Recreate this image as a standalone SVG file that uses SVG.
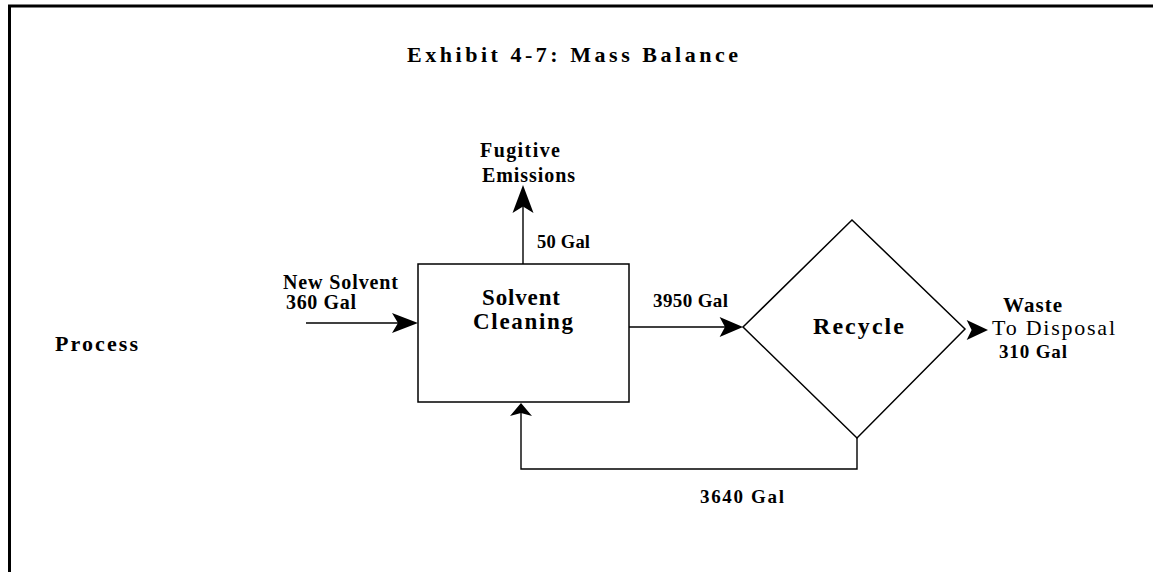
<svg xmlns="http://www.w3.org/2000/svg" xmlns:xlink="http://www.w3.org/1999/xlink" width="1153" height="572" viewBox="0 0 1153 572">
  <style>
    .bold { font-family: "Liberation Serif", "Times New Roman", serif; font-weight: bold; fill: #000; }
    .reg { font-family: "Liberation Serif", "Times New Roman", serif; font-weight: normal; fill: #000; }
    .line { fill: none; stroke: #000; stroke-width: 1.4; }
    .shape { fill: #fff; stroke: #000; stroke-width: 1.5; }
    .frame { fill: none; stroke: #000; stroke-width: 3; }
  </style>
  <defs>
    <!-- arrowhead pointing right, tip at the origin -->
    <path id="head" d="M0,0 L-26,-10 L-20,0 L-26,10 Z" fill="#000"/>
    <path id="headShort" d="M0,0 L-13,-11 L-10,0 L-13,11 Z" fill="#000"/>
  </defs>

  <rect width="1153" height="572" fill="#fff"/>

  <!-- page frame -->
  <path class="frame" d="M8,6 L1153,6 M9.5,5 L9.5,572"/>

  <text class="bold" x="407" y="62" font-size="22" textLength="331" lengthAdjust="spacing">Exhibit 4-7: Mass Balance</text>

  <g id="process-label">
    <text class="bold" x="55" y="351" font-size="22" textLength="83" lengthAdjust="spacing">Process</text>
  </g>

  <g id="solvent-cleaning">
    <rect class="shape" x="418" y="264" width="211" height="138"/>
    <text class="bold" x="482" y="305" font-size="23" textLength="78" lengthAdjust="spacing">Solvent</text>
    <text class="bold" x="473" y="329" font-size="23" textLength="100" lengthAdjust="spacing">Cleaning</text>
  </g>

  <g id="recycle">
    <polygon class="shape" points="743,327 852,220 965,329 857,438"/>
    <text class="bold" x="813" y="334" font-size="24" textLength="91" lengthAdjust="spacing">Recycle</text>
  </g>

  <g id="fugitive-emissions">
    <text class="bold" x="480" y="157" font-size="20" textLength="80" lengthAdjust="spacing">Fugitive</text>
    <text class="bold" x="482" y="182" font-size="20" textLength="93" lengthAdjust="spacing">Emissions</text>
  </g>

  <g id="new-solvent">
    <text class="bold" x="283" y="289" font-size="20" textLength="115" lengthAdjust="spacing">New Solvent</text>
    <text class="bold" x="286" y="309" font-size="20" textLength="70" lengthAdjust="spacing">360 Gal</text>
  </g>

  <g id="waste-disposal">
    <text class="bold" x="1003" y="312" font-size="21" textLength="59" lengthAdjust="spacing">Waste</text>
    <text class="reg" x="992" y="335" font-size="22" textLength="123" lengthAdjust="spacing">To Disposal</text>
    <text class="bold" x="999" y="358" font-size="19" textLength="68" lengthAdjust="spacing">310 Gal</text>
  </g>

  <g id="connectors">
    <!-- new solvent in -->
    <line class="line" x1="306" y1="323" x2="400" y2="323"/>
    <use xlink:href="#head" transform="translate(418,323)"/>

    <!-- fugitive loss -->
    <line class="line" x1="523" y1="264" x2="523" y2="205"/>
    <use xlink:href="#head" transform="translate(523,185) rotate(-90) scale(1.08,1.05)"/>
    <text class="bold" x="537" y="248" font-size="18.5" textLength="53" lengthAdjust="spacing">50 Gal</text>

    <!-- to recycle -->
    <line class="line" x1="629" y1="327" x2="725" y2="327"/>
    <use xlink:href="#head" transform="translate(743,327) scale(0.9,1)"/>
    <text class="bold" x="653" y="307" font-size="19" textLength="75" lengthAdjust="spacing">3950 Gal</text>

    <!-- waste out -->
    <use xlink:href="#head" transform="translate(988,330) scale(0.82,1)"/>

    <!-- recycled solvent return -->
    <polyline class="line" points="857,438 857,469 521,469 521,410"/>
    <use xlink:href="#headShort" transform="translate(521,403) rotate(-90)"/>
    <text class="bold" x="700" y="503" font-size="19" textLength="84" lengthAdjust="spacing">3640 Gal</text>
  </g>
</svg>
